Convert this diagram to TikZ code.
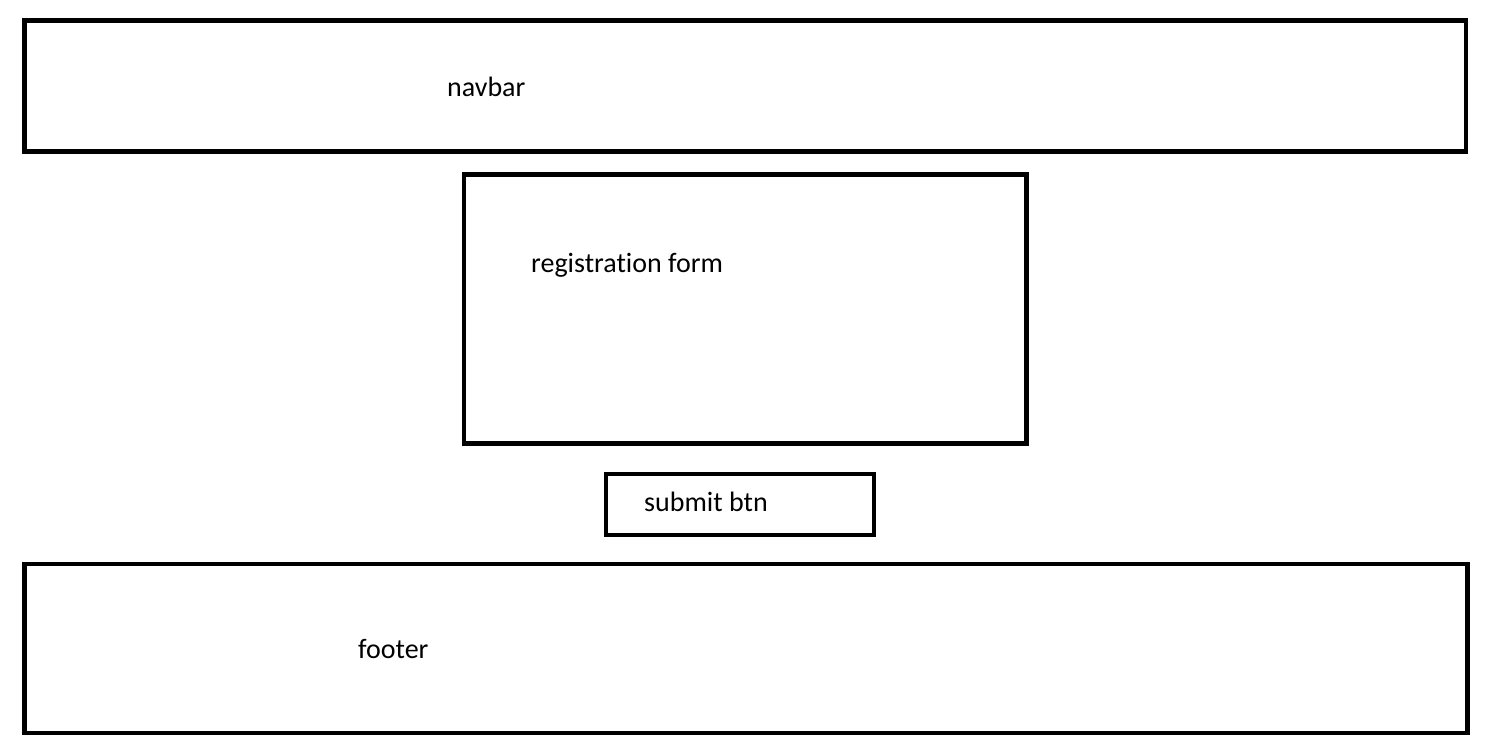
\documentclass[tikz,border=0pt]{standalone}
\usepackage{fontspec}
\setmainfont[Ligatures=NoCommon]{Carlito}
\usepackage{tikz}
\usetikzlibrary{positioning}

\tikzset{
  box/.style={draw=black, line width=4.5pt},
  label text/.style={anchor=base west, inner sep=0pt, font=\fontsize{28}{34}\selectfont}
}

\begin{document}
\begin{tikzpicture}[x=1pt, y=-1pt]
    \useasboundingbox (0, 0) rectangle (1499, 753);

    \draw [box] (24.5, 20.5) rectangle (1466, 151.3);
    \node [label text] (navbar) at (447, 96.5) {navbar};

    \draw [box] (463.8, 174.5) rectangle (1026.7, 443.3);
    \node [label text] (regform) at (531, 272) {registration form};

    \draw [box] (605.8, 473.8) rectangle (874.2, 535);
    \node [label text] (submitbtn) at (644, 511.5) {submit btn};

    \draw [box] (24.5, 563.8) rectangle (1467.5, 733);
    \node [label text] (footer) at (358, 658.3) {footer};
\end{tikzpicture}
\end{document}
